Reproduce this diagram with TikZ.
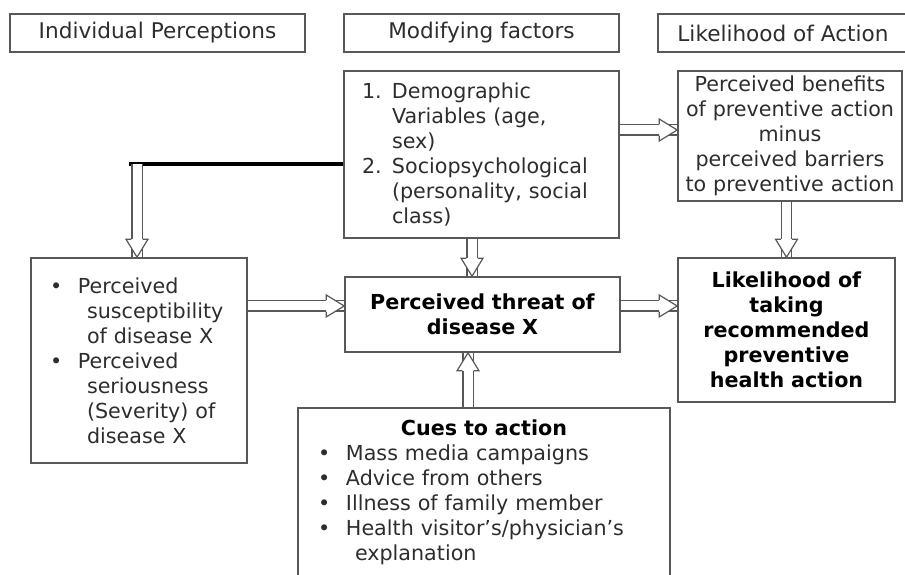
\documentclass[tikz,border=0pt]{standalone}
\usepackage{fontspec}
\setmainfont{DejaVu Sans}
\usetikzlibrary{decorations.markings}

\definecolor{edgegray}{RGB}{88,88,88}
\definecolor{textgray}{RGB}{45,45,45}

% bullet / number boxes for the hand-set lists
\newcommand{\bitem}{\makebox[21pt][l]{\textbullet}}
\newcommand{\bcont}{\hspace*{27.75pt}}
\newcommand{\nitem}[1]{\makebox[22.5pt][l]{#1}}
\newcommand{\ncont}{\hspace*{22.5pt}}

\tikzset{every picture/.style={line width=0.75pt}}
\tikzset{
  box/.style={draw=edgegray, line width=1.2pt, rectangle, inner sep=0pt, text=textgray,
    font=\fontsize{15.5}{18.75}\selectfont},
  headbox/.style={box, minimum height=28.5pt, font=\fontsize{16.2}{19}\selectfont},
  hollow/.style={draw=edgegray, line width=0.9pt, double=white, double distance=6.75pt,
    postaction={decorate, decoration={markings, mark=at position 1 with {
      \fill[white] (-13.5pt,-8.25pt) -- (0pt,0pt) -- (-13.5pt,8.25pt) -- cycle;
      \draw[edgegray, line width=0.9pt, line join=miter]
        (-13.5pt,4.3pt) -- (-13.5pt,8.25pt) -- (0pt,0pt) -- (-13.5pt,-8.25pt) -- (-13.5pt,-4.3pt);
    }}}},
}

\begin{document}
\begin{tikzpicture}[x=0.75pt,y=0.75pt,yscale=-1,xscale=1]
\useasboundingbox (0,0) rectangle (905,574);

% Header row
\node[headbox, minimum width=221.25pt] (hdrPercep) at (157.5,33) {Individual Perceptions};
\node[headbox, minimum width=206.25pt] (hdrModify) at (481.5,33) {Modifying factors};
\node[headbox, minimum width=187.5pt] (hdrLikely) at (783,33) {Likelihood of Action};

% Modifying factors
\node[box, minimum width=206.25pt, minimum height=125.25pt, text width=179.25pt, inner xsep=13.5pt, align=left] (modify) at (481.5,154.5)
  {\nitem{1.}Demographic\\ \ncont Variables (age,\\ \ncont sex)\\
   \nitem{2.}Sociopsychological\\ \ncont (personality, social\\ \ncont class)};

% Benefits minus barriers
\node[box, minimum width=168pt, minimum height=97.5pt, text width=168pt, align=center] (benefit) at (790,136)
  {Perceived benefits\\ of preventive action\\ minus\\ perceived barriers\\ to preventive action};

% Individual perceptions
\node[box, minimum width=162pt, minimum height=153.75pt, text width=133.5pt, inner xsep=14.25pt, align=left] (percep) at (139,360.5)
  {\bitem Perceived\\ \bcont susceptibility\\ \bcont of disease X\\
   \bitem Perceived\\ \bcont seriousness\\ \bcont (Severity) of\\ \bcont disease X};

% Perceived threat
\node[box, minimum width=206.25pt, minimum height=56.25pt, text width=206.25pt, align=center, text=black] (threat) at (482.5,314.5)
  {\textbf{Perceived threat of}\\ \textbf{disease X}};

% Likelihood of taking action
\node[box, minimum width=162.75pt, minimum height=108pt, text width=162.75pt, align=center, text=black] (likely) at (786.5,330)
  {\textbf{Likelihood of}\\ \textbf{taking}\\ \textbf{recommended}\\ \textbf{preventive}\\ \textbf{health action}};

% Cues to action
\node[box, minimum width=279pt, minimum height=126pt, text width=249pt, inner xsep=15pt, align=left] (cues) at (484,492)
  {\makebox[249pt][c]{\color{black}\textbf{Cues to action}}\\
   \bitem Mass media campaigns\\ \bitem Advice from others\\ \bitem Illness of family member\\
   \bitem Health visitor's/physician's\\ \bcont explanation};

% Connectors
\coordinate (barEnd) at (129,164);
\coordinate (barDrop) at (137,164);
\draw[line width=3pt, black] (modify.west |- barEnd) -- (barEnd);
\draw[hollow] (barDrop) -- (barDrop |- percep.north);

\draw[hollow] ([yshift=-4.5pt]modify.east |- benefit.west) -- ([yshift=-4.5pt]benefit.west);
\draw[hollow] (likely.north |- benefit.south) -- (likely.north);
\draw[hollow] ([xshift=-7.1pt]modify.south) -- ([xshift=-7.1pt]modify.south |- threat.north);
\draw[hollow] ([yshift=-6.4pt]percep.east |- threat.west) -- ([yshift=-6.4pt]threat.west);
\draw[hollow] ([yshift=-6.4pt]threat.east) -- ([yshift=-6.4pt]likely.west |- threat.east);
\draw[hollow] ([xshift=-12pt]cues.north) -- ([xshift=-12pt]cues.north |- threat.south);

\end{tikzpicture}
\end{document}
